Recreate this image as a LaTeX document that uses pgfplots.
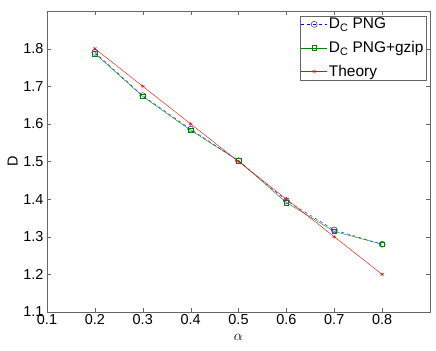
\documentclass[border=0pt]{standalone}
\usepackage{pgfplots}
\pgfplotsset{compat=1.18}
\usepackage{fontspec}
\setmainfont{Liberation Sans}
\begin{document}
\begin{tikzpicture}
\begin{axis}[
  scale only axis,
  width=383bp, height=301bp,
  xmin=0.1, xmax=0.9,
  ymin=1.1, ymax=1.9,
  xtick={0.1,0.2,...,0.8},
  ytick={1.1,1.2,...,1.8},
  xticklabels={0.1,0.2,0.3,0.4,0.5,0.6,0.7,0.8},
  yticklabels={1.1,1.2,1.3,1.4,1.5,1.6,1.7,1.8},
  tick align=inside,
  major tick length=4bp,
  tick style={black!60},
  axis line style={black!60},
  tick label style={font=\fontsize{14.5}{16}\selectfont},
  xticklabel style={yshift=1bp},
  label style={font=\fontsize{14.5}{16}\selectfont},
  xlabel={$\alpha$},
  ylabel={D},
  xlabel style={yshift=-3bp},
  ylabel style={yshift=-1bp},
  legend style={at={(rel axis cs:0.99,0.985)}, anchor=north east,
    font=\fontsize{15.5}{17}\selectfont, draw=black!60, inner sep=1pt,
    row sep=8bp, nodes={inner sep=1.5pt}},
  legend cell align=left,
  legend image code/.code={
    \draw[mark repeat=2,mark phase=2] plot coordinates {(0bp,0bp) (13bp,0bp) (26bp,0bp)};},
]
\coordinate (ll) at (rel axis cs:0,0);
\coordinate (ur) at (rel axis cs:1,1);
\addplot[blue, dash pattern=on 3bp off 3bp, mark=o, mark size=3bp, mark options={solid}] coordinates {
  (0.2,1.790) (0.3,1.675) (0.4,1.586) (0.5,1.502) (0.6,1.396) (0.7,1.318) (0.8,1.280)
};
\addlegendentry{D\textsubscript{C} PNG}
\addplot[green!50!black, mark=square, mark size=2.2bp] coordinates {
  (0.2,1.787) (0.3,1.673) (0.4,1.583) (0.5,1.502) (0.6,1.391) (0.7,1.314) (0.8,1.280)
};
\addlegendentry{D\textsubscript{C} PNG+gzip}
\addplot[red, mark=asterisk, mark size=2bp] coordinates {
  (0.2,1.8) (0.3,1.7) (0.4,1.6) (0.5,1.5) (0.6,1.4) (0.7,1.3) (0.8,1.2)
};
\addlegendentry{Theory}
\end{axis}
\pgfresetboundingbox
\path ([xshift=-47bp,yshift=-39bp]ll) rectangle ([xshift=6bp,yshift=11bp]ur);
\end{tikzpicture}
\end{document}
